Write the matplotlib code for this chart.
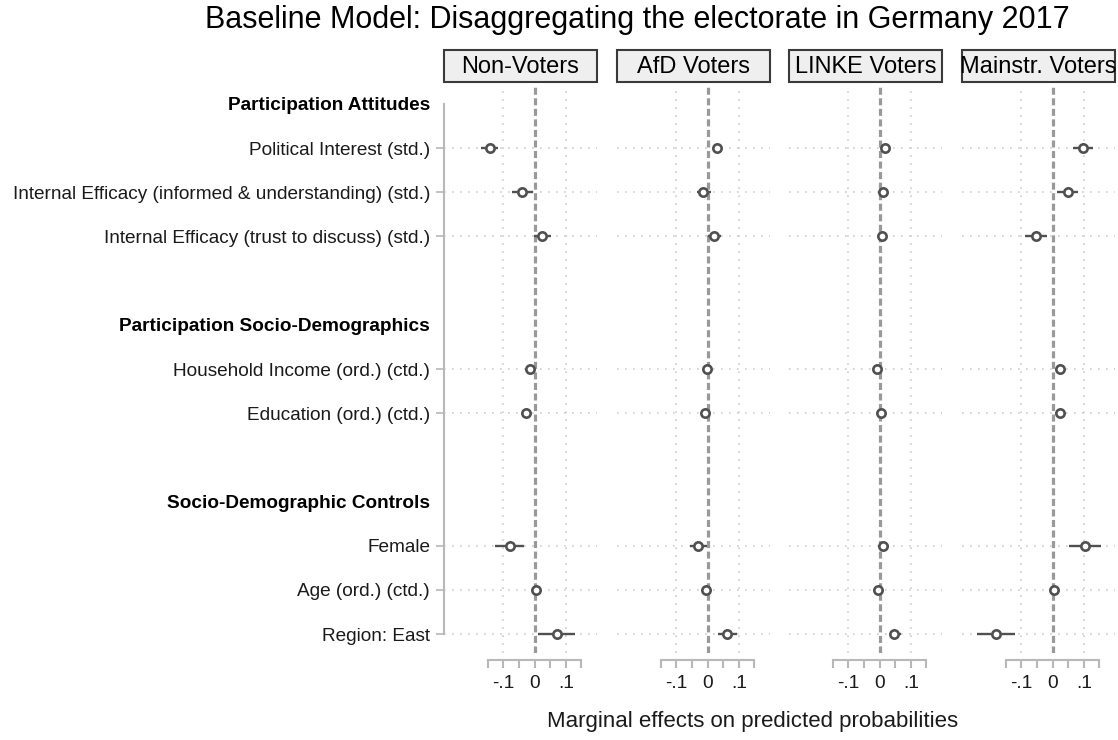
import matplotlib.pyplot as plt
from matplotlib.patches import Rectangle

plt.rcParams['font.family'] = ['Liberation Sans', 'DejaVu Sans']

W, H = 1118, 740

# Rows of the coefficient plot (empty strings are spacer rows)
row_labels = [
    "Participation Attitudes",
    "Political Interest (std.)",
    "Internal Efficacy (informed & understanding) (std.)",
    "Internal Efficacy (trust to discuss) (std.)",
    "",
    "Participation Socio-Demographics",
    "Household Income (ord.) (ctd.)",
    "Education (ord.) (ctd.)",
    "",
    "Socio-Demographic Controls",
    "Female",
    "Age (ord.) (ctd.)",
    "Region: East",
]
headings = ["Participation Attitudes", "Participation Socio-Demographics",
            "Socio-Demographic Controls"]

groups = ["Non-Voters", "AfD Voters", "LINKE Voters", "Mainstr. Voters"]

# marginal effects and 95% CIs, one value per variable row
nonvoters_est = [-0.144, -0.039, 0.025, -0.013, -0.026, -0.080, 0.005, 0.071]
nonvoters_lo = [-0.171, -0.071, -0.002, -0.020, -0.033, -0.126, -0.002, 0.012]
nonvoters_hi = [-0.117, -0.006, 0.054, -0.006, -0.019, -0.033, 0.012, 0.129]

afd_est = [0.031, -0.013, 0.020, -0.001, -0.008, -0.030, -0.004, 0.062]
afd_lo = [0.016, -0.035, 0.002, -0.008, -0.015, -0.056, -0.011, 0.032]
afd_hi = [0.047, 0.010, 0.042, 0.006, -0.001, -0.002, 0.003, 0.093]

linke_est = [0.018, 0.010, 0.008, -0.008, 0.006, 0.012, -0.005, 0.047]
linke_lo = [0.008, 0.001, 0.000, -0.015, -0.001, -0.002, -0.012, 0.032]
linke_hi = [0.028, 0.019, 0.016, -0.001, 0.013, 0.029, 0.002, 0.070]

mainstr_est = [0.097, 0.048, -0.053, 0.024, 0.025, 0.104, 0.006, -0.182]
mainstr_lo = [0.065, 0.013, -0.088, 0.017, 0.018, 0.054, -0.005, -0.242]
mainstr_hi = [0.129, 0.083, -0.018, 0.031, 0.032, 0.155, 0.017, -0.119]

estimates = [nonvoters_est, afd_est, linke_est, mainstr_est]
lowers = [nonvoters_lo, afd_lo, linke_lo, mainstr_lo]
uppers = [nonvoters_hi, afd_hi, linke_hi, mainstr_hi]

var_rows = [i for i, l in enumerate(row_labels) if l and l not in headings]
head_rows = [i for i, l in enumerate(row_labels) if l in headings]

LINE = '#505050'
AXIS = '#b8b8b8'
GRID = '#cdcdcd'
TEXT = '#1a1a1a'


def px(x, y, w, h):
    return [x / W, 1 - (y + h) / H, w / W, h / H]


fig = plt.figure(figsize=(W / 100, H / 100), dpi=100)

lefts = [444, 617, 789, 962]
pw = 153
top, ph = 85, 568

for i, g in enumerate(groups):
    ax = fig.add_axes(px(lefts[i], top, pw, ph))
    ax.set_xlim(-0.29, 0.2)
    ax.set_ylim(12.43, -0.43)

    # dotted grid at each variable row and at +-.1
    for y in var_rows:
        ax.axhline(y, color=GRID, lw=1.2, ls=(0, (1, 3.8)), zorder=0)
    for x in (-0.1, 0.1):
        ax.axvline(x, color=GRID, lw=1.2, ls=(0, (1, 3.8)), zorder=0)
    ax.axvline(0, color='#999999', lw=2.3, ls=(0, (2.2, 1.1)), zorder=1)

    ax.hlines(var_rows, lowers[i], uppers[i], color=LINE, lw=1.7, zorder=3)
    ax.plot(estimates[i], var_rows, 'o', ms=6, mfc='white', mec=LINE,
            mew=1.9, zorder=4)

    ax.patch.set_visible(False)
    for s in ('top', 'right'):
        ax.spines[s].set_visible(False)

    sb = ax.spines['bottom']
    sb.set_position(('outward', 5))
    sb.set_bounds(-0.15, 0.15)
    sb.set_color(AXIS)
    sb.set_linewidth(1.5)
    ax.set_xticks([-0.1, 0, 0.1])
    ax.set_xticklabels(['-.1', '0', '.1'])
    ax.set_xticks([-0.15, -0.05, 0.05, 0.15], minor=True)
    ax.tick_params(axis='x', which='both', length=6, width=1.5, color=AXIS,
                   labelsize=13.8, labelcolor=TEXT, pad=5)

    if i == 0:
        sl = ax.spines['left']
        sl.set_bounds(0, 12)
        sl.set_color(AXIS)
        sl.set_linewidth(1.5)
        ax.set_yticks(var_rows)
        ax.set_yticklabels([row_labels[r] for r in var_rows])
        ax.tick_params(axis='y', length=6, width=1.2, color=AXIS,
                       labelsize=13.7, labelcolor=TEXT, pad=4)
        for r in head_rows:
            ax.annotate(row_labels[r], xy=(0, r),
                        xycoords=('axes fraction', 'data'),
                        xytext=(-10, 0), textcoords='offset points',
                        ha='right', va='center_baseline', fontsize=13.7,
                        fontweight='bold', color='black')
    else:
        ax.spines['left'].set_visible(False)
        ax.set_yticks([])

    # panel header box
    box = Rectangle((lefts[i] / W, 1 - 82 / H), pw / W, 32 / H,
                    transform=fig.transFigure, facecolor='#efefef',
                    edgecolor='#3a3a3a', lw=1.5)
    fig.add_artist(box)
    fig.text((lefts[i] + pw / 2) / W, 1 - 67 / H, g, ha='center',
             va='center', fontsize=17, color='black')

fig.text(637 / W, 1 - 20 / H,
         "Baseline Model: Disaggregating the electorate in Germany 2017",
         ha='center', va='center', fontsize=22, color='black')
fig.text(753 / W, 1 - 722 / H, "Marginal effects on predicted probabilities",
         ha='center', va='center', fontsize=16, color=TEXT)

fig.savefig('out.png', dpi=100, facecolor='white')
